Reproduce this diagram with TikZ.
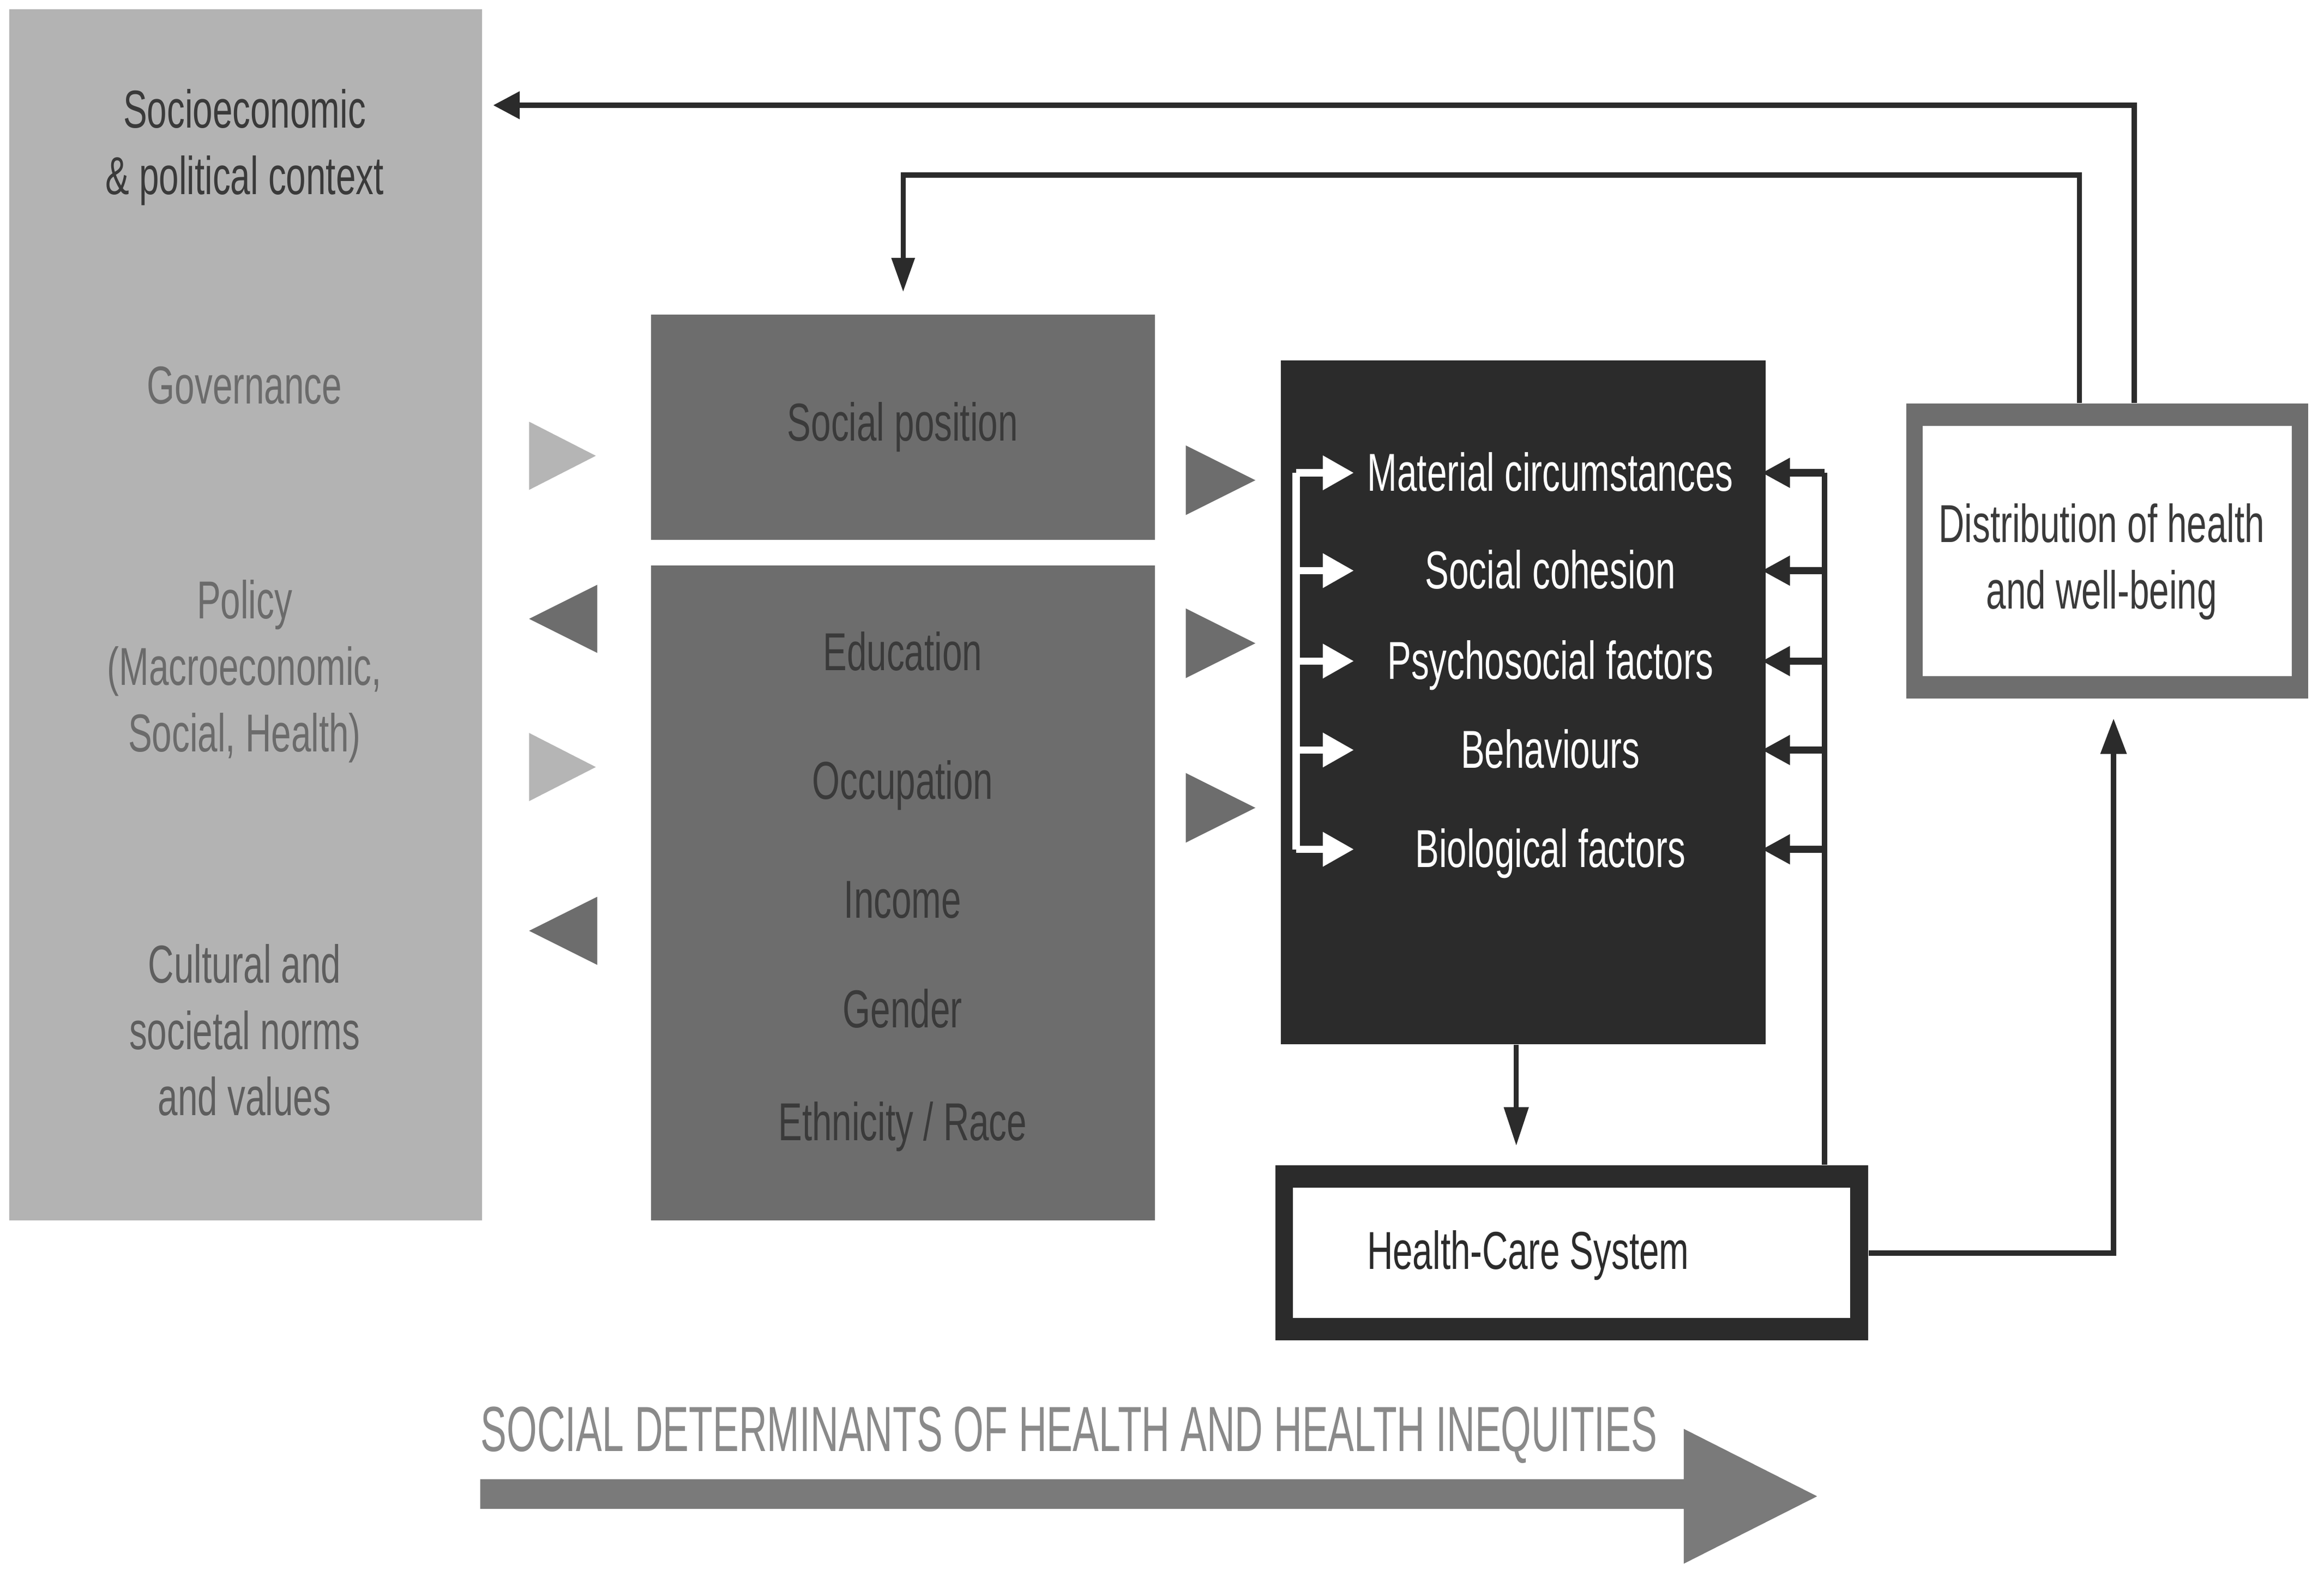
\documentclass[tikz,border=0pt]{standalone}
\usepackage{fontspec}
\setmainfont{Liberation Sans}[FakeStretch=0.67]
\newfontfamily\arrowfont{Liberation Sans}[FakeStretch=0.612]
\usepackage{tikz}
\usetikzlibrary{arrows.meta}
\usetikzlibrary{positioning,calc}
\newcommand{\pxu}{0.02cm}
\newcommand{\diagfont}{\fontsize{20.5}{25.5}\selectfont}
\definecolor{ctxgray}{HTML}{B3B3B3}
\definecolor{midgray}{HTML}{6D6D6D}
\definecolor{blkgray}{HTML}{2B2B2B}
\definecolor{distgray}{HTML}{6E6E6E}
\definecolor{bigarrow}{HTML}{7A7A7A}
\definecolor{bigtext}{HTML}{8A8A8A}
\definecolor{darktxt}{HTML}{3A3A3A}
\definecolor{softtxt}{HTML}{6B6B6B}
\definecolor{normtxt}{HTML}{5E5E5E}
\definecolor{lighttri}{HTML}{B5B5B5}

\begin{document}
\begin{tikzpicture}[
x=\pxu, y=-\pxu,
CtxBox/.style={fill=ctxgray,anchor=north west,inner sep=0},
MidBox/.style={fill=midgray,anchor=north west,inner sep=0},
BlkBox/.style={fill=blkgray,anchor=north west,inner sep=0},
InBox/.style={fill=white,inner sep=0},
Txt/.style={font=\diagfont,inner sep=0,align=center},
OneLine/.style={Txt,text height=14pt,text depth=0pt},
FbLine/.style={draw=blkgray,line width=3.5*\pxu},
BusArrow/.style={draw=blkgray,line width=5*\pxu,-{Triangle[length=3.8mm,width=3.8mm]}},
WhiteArrow/.style={draw=white,line width=5*\pxu,-{Triangle[length=4.2mm,width=4.4mm]}}
]
\useasboundingbox (0,0) rectangle (1568,1063.6);
\fill[white] (0,0) rectangle (1568,1063.6);

% left column
\node[CtxBox,minimum width=319*\pxu,minimum height=817*\pxu] (ctx) at (6,6) {};
\node[Txt,text=darktxt] (socio) at (165,99.5) {Socioeconomic\\\& political context};
\node[OneLine,text=softtxt] (gov) at (165,260) {Governance};
\node[Txt,text=softtxt] (pol) at (165,453) {Policy\\(Macroeconomic,\\Social, Health)};
\node[Txt,text=normtxt] (cult) at (165,695) {Cultural and\\societal norms\\and values};

% triangles between the columns
\foreach \yy in {307.5,517.5}
  \fill[lighttri] (357,\yy-23) -- (402,\yy) -- (357,\yy+23) -- cycle;
\foreach \yy in {417.5,628}
  \fill[midgray] (403,\yy-23) -- (357,\yy) -- (403,\yy+23) -- cycle;
\foreach \yy in {324,434,545}
  \fill[midgray] (800,\yy-23.5) -- (847,\yy) -- (800,\yy+23.5) -- cycle;

% social position and stratifiers
\node[MidBox,minimum width=340*\pxu,minimum height=152*\pxu] (pos) at (439,212) {};
\node[OneLine,text=darktxt] (posTxt) at (609,285) {Social position};
\node[MidBox,minimum width=340*\pxu,minimum height=442*\pxu] (strat) at (439,381) {};
\node[OneLine,text=darktxt] (edu) at (609,440) {Education};
\node[OneLine,text=darktxt] (occ) at (609,527) {Occupation};
\node[OneLine,text=darktxt] (inc) at (609,607) {Income};
\node[OneLine,text=darktxt] (gen) at (609,681) {Gender};
\node[OneLine,text=darktxt] (eth) at (609,757) {Ethnicity / Race};

% intermediary determinants
\node[BlkBox,minimum width=327*\pxu,minimum height=461*\pxu] (blk) at (864,243) {};
\node[OneLine,text=white] (mat) at (1046,319) {Material circumstances};
\node[OneLine,text=white] (coh) at (1046,385) {Social cohesion};
\node[OneLine,text=white] (psy) at (1046,446) {Psychosocial factors};
\node[OneLine,text=white] (beh) at (1046,506) {Behaviours};
\node[OneLine,text=white] (bio) at (1046,573) {Biological factors};

\coordinate (wX) at (874.5,0);
\coordinate (wTip) at (913.5,0);
\coordinate (busX) at (1231,0);

\draw[draw=white,line width=5*\pxu] (mat -| wX) -- (bio -| wX);
\foreach \it in {mat,coh,psy,beh,bio}
  \draw[WhiteArrow] (\it -| wX) -- (\it -| wTip);

% health-care system
\node[BlkBox,minimum width=400*\pxu,minimum height=118*\pxu] (hc) at (860,786) {};
\node[InBox,minimum width=376*\pxu,minimum height=88*\pxu] (hcIn) at (hc.center) {};
\node[OneLine,text=blkgray] (hcTxt) at (1031,844) {Health-Care System};

% distribution of health
\node[CtxBox,fill=distgray,minimum width=271*\pxu,minimum height=199*\pxu] (dist) at (1286,272) {};
\node[InBox,minimum width=249*\pxu,minimum height=169*\pxu] (distIn) at (dist.center) {};
\node[Txt,text=darktxt] (distTxt) at (1418,379) {Distribution of health\\and well-being};

% bus from the health-care system
\draw[FbLine] (hc.north -| busX) -- (mat -| busX);
\foreach \it in {mat,coh,psy,beh,bio}
  \draw[BusArrow,shorten >=-0.6mm] (\it -| busX) -- (\it -| blk.east);

\draw[FbLine,-{Triangle[length=5.2mm,width=3.2mm]},shorten >=2.6mm] (blk.south -| 1023,0) -- (hc.north -| 1023,0);

% feedback loops
\coordinate (fbA) at (1440,71);
\coordinate (fbB) at (1403,118);
\coordinate (fbC) at (1426,846);
\draw[FbLine,-{Triangle[length=3.6mm,width=3.6mm]},shorten >=1.4mm] (dist.north -| fbA) -- (fbA) -- (ctx.east |- fbA);
\draw[FbLine,-{Triangle[length=4.6mm,width=3mm]},shorten >=3mm] (dist.north -| fbB) -- (fbB) -| (pos.north);
\draw[FbLine,-{Triangle[length=4.8mm,width=3.4mm]},shorten >=2.6mm] (hc.east) -- (hc.east -| fbC) -- (dist.south -| fbC);

% big arrow at the bottom
\fill[bigarrow] (324,998) -- (1136,998) -- (1136,964) -- (1226,1009.5) -- (1136,1055)
  -- (1136,1018) -- (324,1018) -- cycle;
\node[anchor=west,inner sep=0,text=bigtext,font=\arrowfont\fontsize{24.5}{28}\selectfont,
  text height=0.72em,text depth=0pt] (sdh) at (324,973) {SOCIAL DETERMINANTS OF HEALTH AND HEALTH INEQUITIES};

\end{tikzpicture}
\end{document}
